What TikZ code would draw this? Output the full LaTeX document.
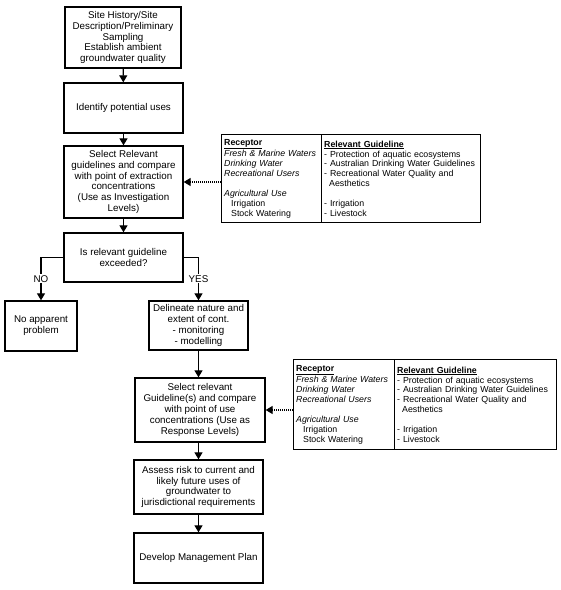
\documentclass[tikz,border=0pt]{standalone}
\usepackage{fontspec}
\setmainfont{Liberation Sans}
\usetikzlibrary{arrows.meta}
\begin{document}
\begin{tikzpicture}[x=1pt,y=-1pt,
  box/.style={draw, line width=1.3pt, align=center, inner sep=0pt, font=\fontsize{9.8}{10.8}\selectfont},
  col/.style={draw, line width=1.3pt, anchor=north west, align=left, inner xsep=2.5pt, inner ysep=0pt, font=\fontsize{8.8}{9.9}\selectfont},
  arr/.style={line width=1.1pt, -{Triangle[width=8pt,length=7pt]}},
  darr/.style={line width=1.1pt, dash pattern=on 1pt off 1pt, -{Triangle[width=8pt,length=7pt]}},
  lab/.style={fill=white, inner sep=1pt, font=\fontsize{9.8}{10.8}\selectfont}]
\useasboundingbox (0,0) rectangle (561,590);
% flow boxes
\node[box, minimum width=116pt, minimum height=61pt] (b1) at (123,37.5)
  {Site History/Site\\Description/Preliminary\\Sampling\\Establish ambient\\groundwater quality};
\node[box, minimum width=119pt, minimum height=50pt] (b2) at (123.5,108) {Identify potential uses};
\node[box, minimum width=119pt, minimum height=72pt] (b3) at (123.5,182)
  {Select Relevant\\guidelines and compare\\with point of extraction\\concentrations\\(Use as Investigation\\Levels)};
\node[box, minimum width=119pt, minimum height=49pt] (b4) at (123.5,257.5) {Is relevant guideline\\exceeded?};
\node[box, minimum width=72pt, minimum height=50pt] (b5) at (41,326) {No apparent\\problem};
\node[box, minimum width=99pt, minimum height=49pt] (b6) at (198.5,325.5)
  {Delineate nature and\\extent of cont.\\- monitoring\\- modelling};
\node[box, minimum width=130pt, minimum height=64pt] (b7) at (200,410)
  {Select relevant\\Guideline(s) and compare\\with point of use\\concentrations (Use as\\Response Levels)};
\node[box, minimum width=129pt, minimum height=54pt] (b8) at (198.5,487)
  {Assess risk to current and\\likely future uses of\\groundwater to\\jurisdictional requirements};
\node[box, minimum width=129pt, minimum height=50pt] (b9) at (198.5,558) {Develop Management Plan};
% tables
\node[col, text width=95pt, minimum height=88pt] (t1a) at (221,134)
  {\underline{\textbf{Receptor}}\\\textit{Fresh \& Marine Waters}\\\textit{Drinking Water}\\\textit{Recreational Users}\\\mbox{}\\\textit{Agricultural Use}\\\hspace*{7pt}Irrigation\\\hspace*{7pt}Stock Watering};
\node[col, text width=154pt, minimum height=88pt] (t1b) at (321,134)
  {\underline{\textbf{Relevant Guideline}}\\- Protection of aquatic ecosystems\\- Australian Drinking Water Guidelines\\- Recreational Water Quality and\\\hspace*{5pt}Aesthetics\\\mbox{}\\- Irrigation\\- Livestock};
\node[col, text width=96pt, minimum height=90pt] (t2a) at (293,359)
  {\underline{\textbf{Receptor}}\\\textit{Fresh \& Marine Waters}\\\textit{Drinking Water}\\\textit{Recreational Users}\\\mbox{}\\\textit{Agricultural Use}\\\hspace*{7pt}Irrigation\\\hspace*{7pt}Stock Watering};
\node[col, text width=157pt, minimum height=90pt] (t2b) at (394,359)
  {\underline{\textbf{Relevant Guideline}}\\- Protection of aquatic ecosystems\\- Australian Drinking Water Guidelines\\- Recreational Water Quality and\\\hspace*{5pt}Aesthetics\\\mbox{}\\- Irrigation\\- Livestock};
% connectors
\draw[arr] (b1) -- (b2);
\draw[arr] (b2) -- (b3);
\draw[arr] (b3) -- (b4);
\draw[arr] (b4.west) -| node[lab, pos=0.75] {NO} (b5.north);
\draw[arr] (b4.east) -| node[lab, pos=0.75] {YES} (b6.north);
\draw[arr] (b6.south) -- (b6.south |- b7.north);
\draw[arr] (b7.south -| b8.north) -- (b8.north);
\draw[arr] (b8) -- (b9);
\draw[darr] (t1a.west |- b3.east) -- (b3.east);
\draw[darr] (t2a.west |- b7.east) -- (b7.east);
\end{tikzpicture}
\end{document}
